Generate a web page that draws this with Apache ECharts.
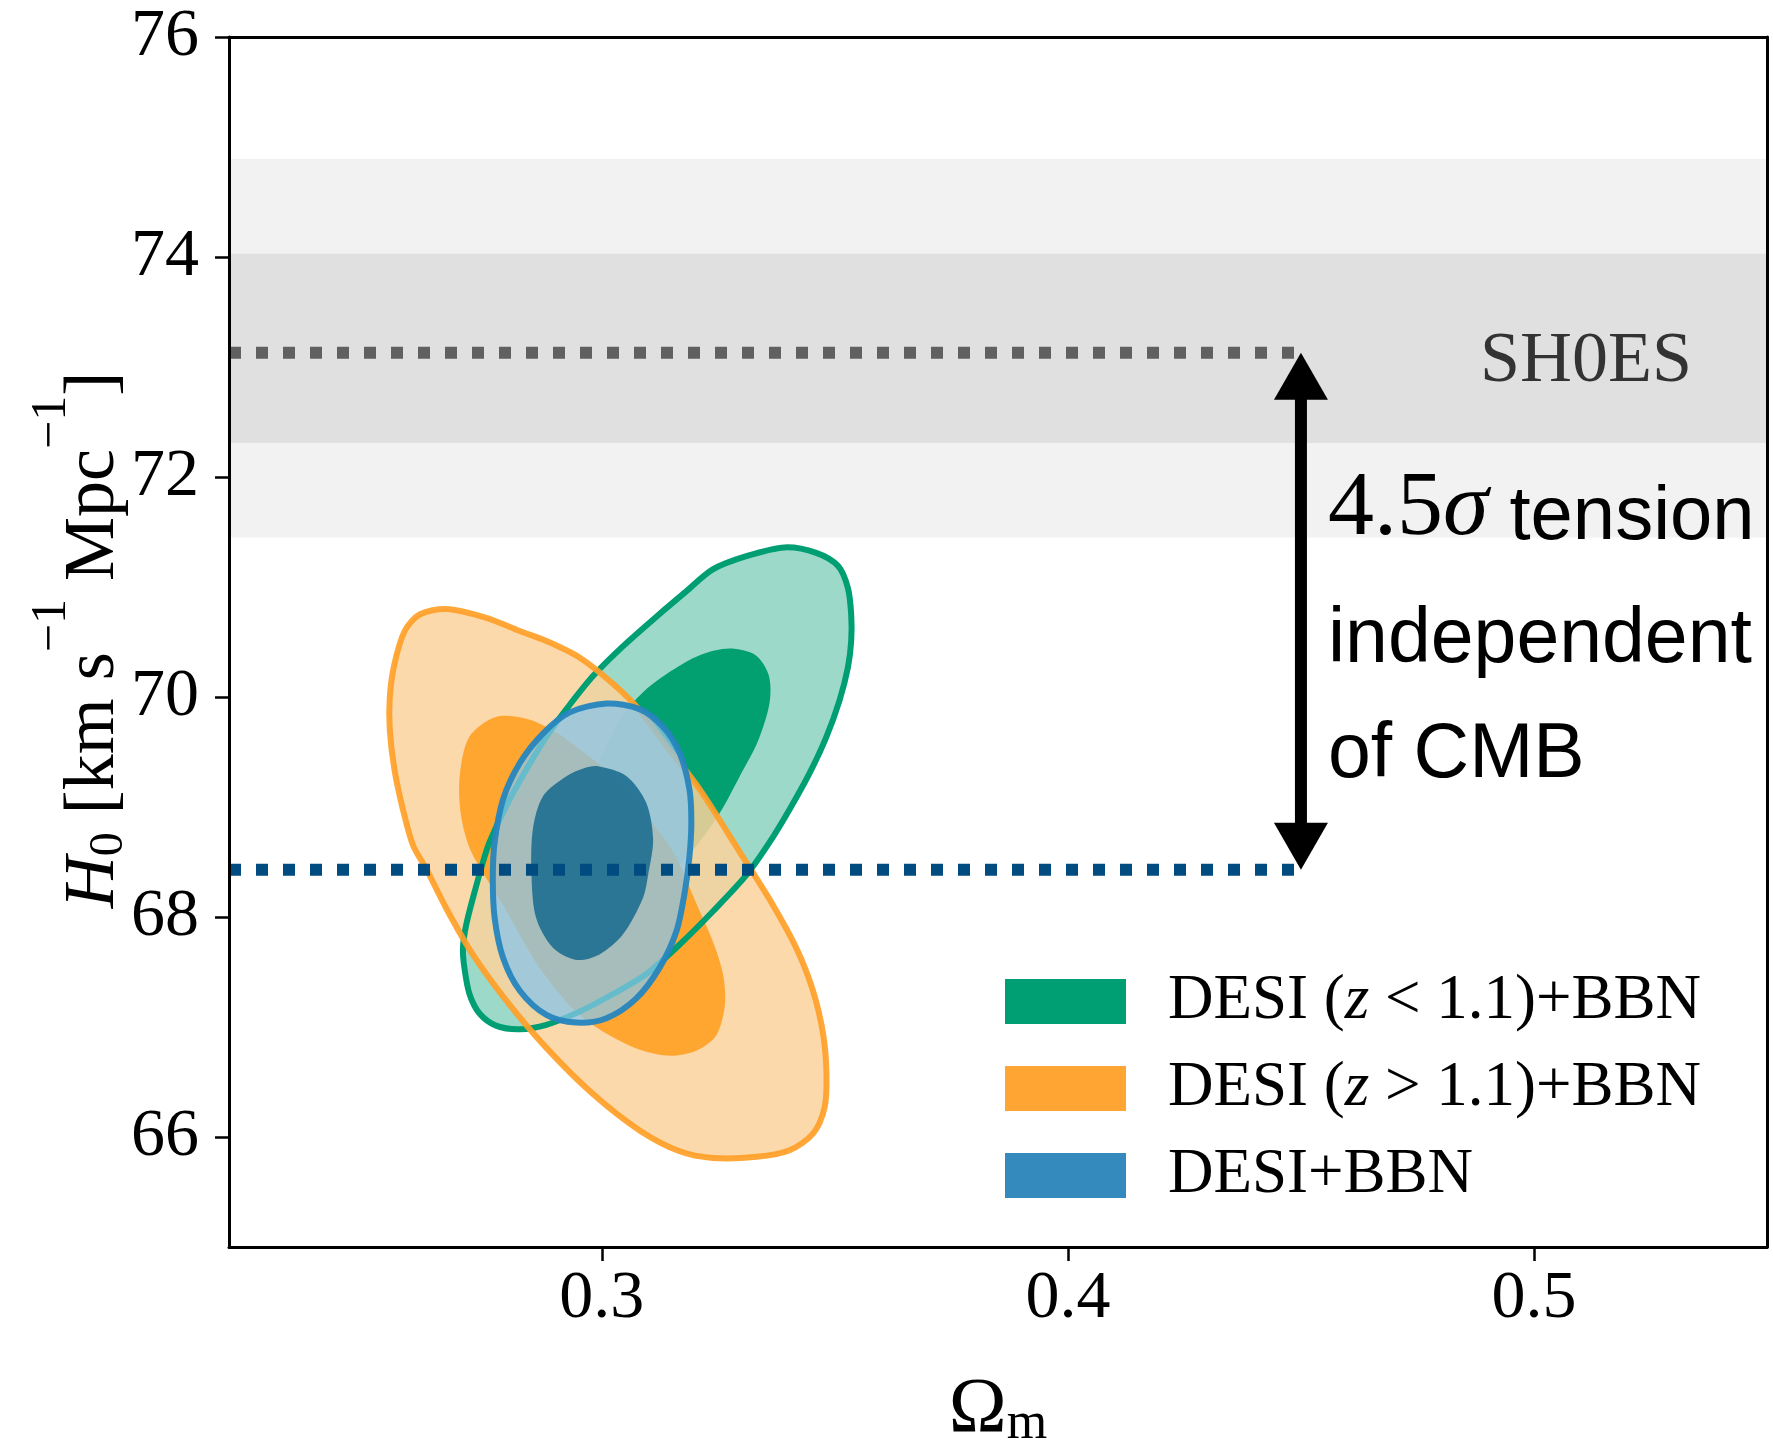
<!DOCTYPE html>
<html>
<head>
<meta charset="utf-8">
<script src="https://cdn.jsdelivr.net/npm/echarts@6/dist/echarts.min.js"></script>
<style>
html,body{margin:0;padding:0;background:#fff;overflow:hidden;width:1773px;height:1455px;}
#chart{width:1773px;height:1455px;}
</style>
</head>
<body>
<div id="chart"></div>
<script>
// ---------------- data ----------------
const omegaRange = [0.22, 0.55];
const h0Range = [65, 76];
const omegaTicks = [0.3, 0.4, 0.5];
const h0Ticks = [66, 68, 70, 72, 74, 76];

const seriesNames = ['DESI (z < 1.1)+BBN', 'DESI (z > 1.1)+BBN', 'DESI+BBN'];

// SH0ES bands [low, high] (2 sigma, 1 sigma) and central value
const shoesBands = [[71.45, 74.89], [72.31, 74.03]];
const shoesH0 = 73.13;
const desiH0 = 68.43;
const arrowOmega = 0.45;

// contours [Omega_m, H0]
const greenOuter = [[0.3392,71.36],[0.3460,71.31],[0.3507,71.19],[0.3528,70.99],[0.3535,70.75],[0.3535,70.51],[0.3528,70.27],[0.3510,69.97],[0.3482,69.64],[0.3446,69.31],[0.3403,68.98],[0.3360,68.68],[0.3310,68.38],[0.3238,68.05],[0.3167,67.75],[0.3095,67.48],[0.3024,67.30],[0.2952,67.14],[0.2881,67.02],[0.2824,66.98],[0.2774,67.01],[0.2738,67.12],[0.2716,67.30],[0.2705,67.54],[0.2702,67.72],[0.2709,67.93],[0.2727,68.23],[0.2745,68.50],[0.2759,68.68],[0.2795,69.01],[0.2838,69.34],[0.2881,69.64],[0.2924,69.89],[0.2981,70.19],[0.3045,70.46],[0.3117,70.73],[0.3181,70.96],[0.3238,71.16],[0.3310,71.28]];
const greenInner = [[0.3274,70.44],[0.3330,70.38],[0.3358,70.20],[0.3360,69.95],[0.3335,69.60],[0.3296,69.28],[0.3255,68.96],[0.3205,68.66],[0.3140,68.36],[0.3060,68.10],[0.2980,67.95],[0.2920,67.95],[0.2890,68.10],[0.2885,68.40],[0.2920,68.80],[0.2980,69.30],[0.3040,69.80],[0.3090,70.05],[0.3150,70.24],[0.3210,70.38]];
const orangeOuter = [[0.2666,70.80],[0.2752,70.72],[0.2824,70.60],[0.2881,70.51],[0.2952,70.36],[0.3024,70.12],[0.3081,69.88],[0.3145,69.52],[0.3210,69.16],[0.3296,68.59],[0.3367,68.11],[0.3417,67.72],[0.3453,67.33],[0.3475,66.93],[0.3482,66.57],[0.3478,66.27],[0.3453,66.03],[0.3403,65.88],[0.3332,65.82],[0.3238,65.81],[0.3167,65.87],[0.3081,66.06],[0.2981,66.39],[0.2881,66.81],[0.2795,67.24],[0.2723,67.66],[0.2666,68.08],[0.2623,68.44],[0.2595,68.65],[0.2573,68.98],[0.2555,69.34],[0.2545,69.70],[0.2545,70.00],[0.2555,70.30],[0.2577,70.60],[0.2609,70.75]];
const orangeInner = [[0.2774,69.82],[0.2840,69.80],[0.2902,69.68],[0.2960,69.50],[0.3024,69.28],[0.3090,68.95],[0.3153,68.59],[0.3203,68.12],[0.3238,67.78],[0.3260,67.48],[0.3264,67.20],[0.3245,66.92],[0.3200,66.78],[0.3140,66.74],[0.3060,66.83],[0.2952,67.11],[0.2866,67.54],[0.2788,68.11],[0.2720,68.59],[0.2698,68.92],[0.2695,69.28],[0.2716,69.64]];
const blueOuter = [[0.3010,69.94],[0.3081,69.89],[0.3131,69.73],[0.3167,69.49],[0.3188,69.16],[0.3192,68.86],[0.3188,68.55],[0.3178,68.23],[0.3160,67.87],[0.3124,67.54],[0.3074,67.26],[0.3010,67.08],[0.2945,67.04],[0.2881,67.11],[0.2824,67.33],[0.2788,67.63],[0.2770,67.99],[0.2766,68.35],[0.2770,68.68],[0.2788,69.07],[0.2824,69.40],[0.2874,69.67],[0.2931,69.86]];
const blueInner = [[0.2992,69.37],[0.3053,69.28],[0.3095,69.04],[0.3110,68.71],[0.3100,68.40],[0.3088,68.17],[0.3045,67.84],[0.2995,67.66],[0.2945,67.61],[0.2895,67.72],[0.2859,67.99],[0.2849,68.38],[0.2852,68.80],[0.2874,69.10],[0.2924,69.28],[0.2960,69.35]];

// ---------------- styles ----------------
const SERIF = "'Liberation Serif', 'DejaVu Serif', serif";
const SANS = "'Liberation Sans', Arial, sans-serif";
const legendColors = ['#009e73', '#ffa533', '#348abd'];
const LINE_W = 6;

function contourSeries(name, legendColor, layers, z) {
  return {
    type: 'custom', name: name, z: z, silent: true, animation: false,
    coordinateSystem: 'cartesian2d',
    itemStyle: { color: legendColor },
    data: layers[0].pts,
    encode: { x: 0, y: 1 },
    renderItem: function (params, api) {
      if (params.dataIndex !== 0) return null;
      return {
        type: 'group',
        children: layers.map(function (l) {
          const pts = l.pts.map(function (p) { return api.coord(p); });
          return {
            type: 'polygon',
            shape: { points: pts, smooth: 0.3 },
            style: l.stroke ? { fill: 'none', stroke: l.stroke, lineWidth: LINE_W } : { fill: l.fill }
          };
        })
      };
    }
  };
}

const chart = echarts.init(document.getElementById('chart'), null, { renderer: 'canvas' });

const axisLabelStyle = { fontFamily: SERIF, fontSize: 68, color: '#000' };

const option = {
  animation: false,
  backgroundColor: '#fff',
  grid: { left: 229, right: 6, top: 37, bottom: 197, containLabel: false },
  xAxis: [{
    type: 'value', min: omegaRange[0], max: omegaRange[1], position: 'bottom', z: 10,
    axisLine: { show: true, onZero: false, lineStyle: { color: '#000', width: 3 } },
    axisTick: { show: true, length: 14, lineStyle: { color: '#000', width: 2.5 }, customValues: omegaTicks },
    axisLabel: Object.assign({ customValues: omegaTicks, margin: 18, formatter: function (v) { return v.toFixed(1); } }, axisLabelStyle),
    splitLine: { show: false },
    name: '{o|Ω}{m|m}', nameLocation: 'middle', nameGap: 125,
    nameTextStyle: { rich: {
      o: { fontFamily: SERIF, fontSize: 78, lineHeight: 78, verticalAlign: 'bottom', color: '#000' },
      m: { fontFamily: SERIF, fontSize: 52, lineHeight: 38, verticalAlign: 'bottom', color: '#000' }
    } }
  }, {
    type: 'value', min: omegaRange[0], max: omegaRange[1], position: 'top', z: 10,
    axisLine: { show: true, onZero: false, lineStyle: { color: '#000', width: 3 } },
    axisTick: { show: false }, axisLabel: { show: false }, splitLine: { show: false }
  }],
  yAxis: [{
    type: 'value', min: h0Range[0], max: h0Range[1], position: 'left', z: 10,
    axisLine: { show: true, onZero: false, lineStyle: { color: '#000', width: 3 } },
    axisTick: { show: true, length: 14, lineStyle: { color: '#000', width: 2.5 }, customValues: h0Ticks },
    axisLabel: Object.assign({ customValues: h0Ticks, margin: 30 }, axisLabelStyle),
    splitLine: { show: false }
  }, {
    type: 'value', min: h0Range[0], max: h0Range[1], position: 'right', z: 10,
    axisLine: { show: true, onZero: false, lineStyle: { color: '#000', width: 3 } },
    axisTick: { show: false }, axisLabel: { show: false }, splitLine: { show: false }
  }],
  legend: {
    orient: 'vertical', left: 1005, top: 970, padding: 0, itemGap: 24,
    itemWidth: 121, itemHeight: 45, icon: 'rect',
    data: seriesNames,
    selectedMode: false,
    formatter: function (name) {
      if (name === seriesNames[0]) return 'DESI ({z|z} < 1.1)+BBN';
      if (name === seriesNames[1]) return 'DESI ({z|z} > 1.1)+BBN';
      return name;
    },
    textStyle: {
      fontFamily: SERIF, fontSize: 63, color: '#000', padding: [0, 0, 0, 37],
      rich: { z: { fontFamily: SERIF, fontStyle: 'italic', fontSize: 63, color: '#000' } }
    }
  },
  series: [
    // SH0ES bands
    {
      type: 'custom', z: 1, silent: true, animation: false,
      data: shoesBands,
      encode: { y: [0, 1] },
      renderItem: function (params, api) {
        const lo = api.value(0), hi = api.value(1);
        const p1 = api.coord([omegaRange[0], hi]);
        const p2 = api.coord([omegaRange[1], lo]);
        return { type: 'rect', shape: { x: p1[0], y: p1[1], width: p2[0] - p1[0], height: p2[1] - p1[1] },
          style: { fill: params.dataIndex === 0 ? '#f2f2f2' : '#e0e0e0' } };
      }
    },
    contourSeries(seriesNames[0], legendColors[0], [
      { pts: greenOuter, fill: 'rgba(0,158,115,0.39)' },
      { pts: greenInner, fill: '#02a070' }
    ], 2),
    contourSeries(seriesNames[1], legendColors[1], [
      { pts: orangeOuter, fill: 'rgba(252,210,155,0.85)' },
      { pts: orangeInner, fill: 'rgba(255,160,36,0.9)' }
    ], 3),
    contourSeries(seriesNames[0], legendColors[0], [
      { pts: greenOuter, stroke: '#009e73' }
    ], 4),
    contourSeries(seriesNames[1], legendColors[1], [
      { pts: orangeOuter, stroke: 'rgba(255,160,40,0.92)' }
    ], 5),
    contourSeries(seriesNames[2], legendColors[2], [
      { pts: blueOuter, fill: 'rgba(138,198,233,0.75)' },
      { pts: blueInner, fill: 'rgba(30,110,145,0.9)' },
      { pts: blueOuter, stroke: 'rgba(38,133,190,0.95)' }
    ], 6),
    // dotted reference lines
    {
      type: 'line', z: 8, silent: true, showSymbol: false, symbol: 'none',
      data: [[omegaRange[0], shoesH0], [arrowOmega, shoesH0]],
      lineStyle: { color: '#606060', width: 12, type: [12, 15], cap: 'butt' }
    },
    {
      type: 'line', z: 8, silent: true, showSymbol: false, symbol: 'none',
      data: [[omegaRange[0], desiH0], [arrowOmega, desiH0]],
      lineStyle: { color: '#004c80', width: 12, type: [12, 15], cap: 'butt' }
    },
    // double arrow
    {
      type: 'custom', z: 9, silent: true, animation: false,
      data: [[arrowOmega, desiH0, shoesH0]],
      encode: { x: 0, y: [1, 2] },
      renderItem: function (params, api) {
        const lo = api.coord([api.value(0), api.value(1)]);
        const hi = api.coord([api.value(0), api.value(2)]);
        const x = lo[0], hl = 47, hw = 27;
        return { type: 'group', children: [
          { type: 'line', shape: { x1: x, y1: hi[1] + hl - 2, x2: x, y2: lo[1] - hl + 2 }, style: { stroke: '#000', lineWidth: 12 } },
          { type: 'polygon', shape: { points: [[x, hi[1]], [x - hw, hi[1] + hl], [x + hw, hi[1] + hl]] }, style: { fill: '#000' } },
          { type: 'polygon', shape: { points: [[x, lo[1]], [x - hw, lo[1] - hl], [x + hw, lo[1] - hl]] }, style: { fill: '#000' } }
        ] };
      }
    }
  ],
  graphic: [
    // y-axis title (rotated)
    { type: 'text', z: 20, x: 94, y: 640, rotation: Math.PI / 2,
      style: {
        text: '{i|H}{sb|0}{n| [km s}{sp|−1}{n| Mpc}{sp|−1}{n|]}',
        align: 'center', verticalAlign: 'middle',
        rich: {
          i: { fontFamily: SERIF, fontStyle: 'italic', fontSize: 72, lineHeight: 72, verticalAlign: 'middle', fill: '#000' },
          n: { fontFamily: SERIF, fontSize: 72, lineHeight: 72, verticalAlign: 'middle', fill: '#000' },
          sb: { fontFamily: SERIF, fontSize: 48, lineHeight: 48, verticalAlign: 'middle', padding: [30, 0, 0, 0], fill: '#000' },
          sp: { fontFamily: SERIF, fontSize: 50, lineHeight: 50, verticalAlign: 'middle', padding: [0, 0, 84, 0], fill: '#000' }
        }
      } },
    { type: 'text', z: 20, style: { x: 1586, y: 362, text: 'SH0ES', fontFamily: SERIF, fontSize: 72, fill: '#333', align: 'center', verticalAlign: 'middle' } },
    { type: 'text', z: 20, style: { x: 1328, y: 556, text: '{n|4.5}{s|σ}{t| tension}', verticalAlign: 'bottom', align: 'left',
      rich: {
        n: { fontFamily: SERIF, fontSize: 92, lineHeight: 92, verticalAlign: 'bottom', fill: '#000' },
        s: { fontFamily: SERIF, fontStyle: 'italic', fontSize: 92, lineHeight: 92, verticalAlign: 'bottom', fill: '#000' },
        t: { fontFamily: SANS, fontSize: 76, lineHeight: 76, verticalAlign: 'bottom', fill: '#000' }
      } } },
    { type: 'text', z: 20, style: { x: 1328, y: 679, text: 'independent', fontFamily: SANS, fontSize: 77, fill: '#000', align: 'left', verticalAlign: 'bottom', lineHeight: 77 } },
    { type: 'text', z: 20, style: { x: 1328, y: 794, text: 'of CMB', fontFamily: SANS, fontSize: 77, fill: '#000', align: 'left', verticalAlign: 'bottom', lineHeight: 77 } }
  ]
};

chart.setOption(option);
</script>
</body>
</html>
